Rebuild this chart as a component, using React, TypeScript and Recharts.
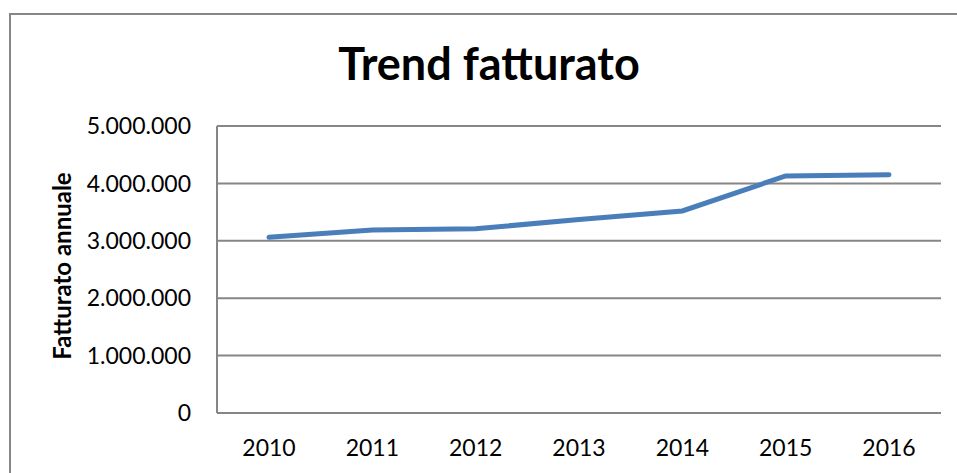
import { CartesianGrid, Line, LineChart, XAxis, YAxis } from 'recharts';

const years = ['2010', '2011', '2012', '2013', '2014', '2015', '2016'];
const fatturato = [3060000, 3190000, 3210000, 3370000, 3520000, 4130000, 4150000];
const yTicks = [0, 1000000, 2000000, 3000000, 4000000, 5000000];

const data = years.map((anno, i) => ({ anno, fatturato: fatturato[i] }));

const fmt = (v: number) => (v === 0 ? '0' : v.toLocaleString('de-DE'));

const font = 'Lato, "Open Sans", sans-serif';
const grid = '#868686';

export default function App() {
  return (
    <div style={{ position: 'absolute', left: 0, top: 0, width: 957, height: 473, overflow: 'hidden', background: '#fff', fontFamily: font }}>
      <div style={{ position: 'absolute', left: 9, top: 13, width: 1000, height: 600, border: `2px solid ${grid}` }} />
      <div style={{ position: 'absolute', left: 0, top: 36, width: 978, textAlign: 'center', fontSize: 45, fontWeight: 700, lineHeight: '54px', color: '#000' }}>
        Trend fatturato
      </div>
      <div
        style={{
          position: 'absolute',
          left: 61,
          top: 266,
          transform: 'translate(-50%, -50%) rotate(-90deg)',
          fontSize: 24,
          fontWeight: 700,
          whiteSpace: 'nowrap',
          color: '#000',
        }}
      >
        Fatturato annuale
      </div>
      <LineChart
        width={957}
        height={473}
        data={data}
        margin={{ top: 126, right: 16, bottom: 0, left: 0 }}
        style={{ position: 'absolute', left: 0, top: 0 }}
      >
        <CartesianGrid vertical={false} stroke={grid} strokeWidth={2} />
        <XAxis
          dataKey="anno"
          height={60}
          padding={{ left: 52, right: 52 }}
          axisLine={{ stroke: grid, strokeWidth: 2 }}
          tickLine={false}
          tickSize={0}
          tickMargin={27}
          tick={{ fill: '#000', fontSize: 23, fontFamily: font }}
        />
        <YAxis
          width={217}
          domain={[0, 5000000]}
          ticks={yTicks}
          tickFormatter={fmt}
          axisLine={{ stroke: grid, strokeWidth: 2 }}
          tickLine={false}
          tickSize={0}
          tickMargin={26}
          tick={{ fill: '#000', fontSize: 23, fontFamily: font }}
        />
        <Line
          type="linear"
          dataKey="fatturato"
          stroke="#4a7ebb"
          strokeWidth={5}
          strokeLinecap="round"
          dot={false}
          activeDot={false}
          isAnimationActive={false}
        />
      </LineChart>
    </div>
  );
}
